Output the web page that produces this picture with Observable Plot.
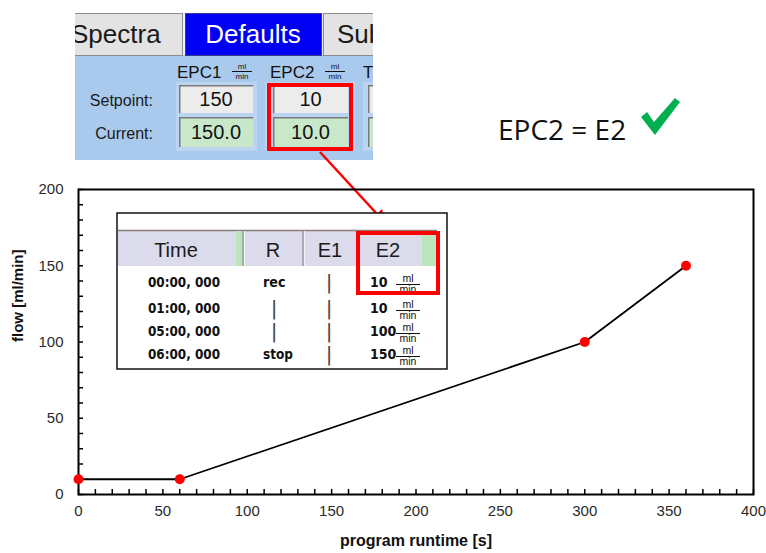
<!DOCTYPE html>
<html><head><meta charset="utf-8">
<script src="https://cdn.jsdelivr.net/npm/d3@7"></script>
<script src="https://cdn.jsdelivr.net/npm/@observablehq/plot@0.6"></script>
<style>
body{margin:0;background:#fff;}
#wrap{position:relative;width:766px;height:553px;overflow:hidden;background:#fff;}
#wrap > svg{position:absolute;left:0;top:0;}
</style></head>
<body><div id="wrap"></div>
<script>
// ---- chart data ----
const runtime = [0, 60, 300, 360];          // program runtime [s]
const flow = [10, 10, 100, 150];            // flow [ml/min]
const xTicks = [0, 50, 100, 150, 200, 250, 300, 350, 400];
const yTicks = [0, 50, 100, 150, 200];
const xLabel = "program runtime [s]";
const yLabel = "flow [ml/min]";

// ---- inset screenshot texts ----
const tabs = ["Spectra", "Defaults", "Sub"];
const epcNames = ["EPC1", "EPC2", "T"];
const setpoints = ["150", "10"];
const currents = ["150.0", "10.0"];
const rowLabels = ["Setpoint:", "Current:"];
const tableHeaders = ["Time", "R", "E1", "E2"];
const tableTimes = ["00:00, 000", "01:00, 000", "05:00, 000", "06:00, 000"];
const tableR = ["rec", "|", "|", "stop"];
const tableE2 = ["10", "10", "100", "150"];
const unitTop = "ml", unitBottom = "min";
const note = "EPC2 = E2";

const points = runtime.map((t, i) => ({t, f: flow[i]}));
const xDomain = [0, 400], yDomain = [0, 200];
const xMinor = d3.ticks(xDomain[0], xDomain[1], 40);   // minor tick every 10 s
const yMinor = d3.ticks(yDomain[0], yDomain[1], 20);   // minor tick every 10 ml/min
const W = 766, H = 553, mL = 78, mR = 13, mT = 189, mB = 59, tickLen = 5;

const wrap = document.getElementById("wrap");

// ---- overlays (screenshots, arrow, note) drawn first, chart on top ----
const ov = d3.select(wrap).append("svg")
  .attr("width", W).attr("height", H)
  .style("font-family", "'Liberation Sans', Arial, sans-serif");

const defs = ov.append("defs");
defs.append("clipPath").attr("id", "uiclip-epc").append("rect")
  .attr("x", 75).attr("y", 13).attr("width", 298).attr("height", 147);

// top UI panel
const ui = ov.append("g").attr("clip-path", "url(#uiclip-epc)");
ui.append("rect").attr("x", 75).attr("y", 13).attr("width", 298).attr("height", 42).attr("fill", "#f2f2f2");
ui.append("rect").attr("x", 75).attr("y", 55).attr("width", 298).attr("height", 105).attr("fill", "#a9c9ed");
const tabBoxes = [[60, 182], [185, 321], [323, 420]];
tabBoxes.forEach(([a, b], i) => {
  ui.append("rect").attr("x", a + 0.5).attr("y", 13.5).attr("width", b - a).attr("height", 42)
    .attr("fill", i === 1 ? "#0000f5" : "#e3e3e3").attr("stroke", i === 1 ? "#3a3a8a" : "#8c8c8c");
});
ui.append("text").attr("x", 71).attr("y", 43).attr("font-size", 26).attr("fill", "#1a1a1a").text(tabs[0]);
ui.append("text").attr("x", 253).attr("y", 43).attr("font-size", 26).attr("fill", "#fff").attr("text-anchor", "middle").text(tabs[1]);
ui.append("text").attr("x", 337).attr("y", 43).attr("font-size", 26).attr("fill", "#1a1a1a").text(tabs[2]);

// group backgrounds
[[176, 257], [265, 355], [363, 460]].forEach(([a, b]) => {
  ui.append("rect").attr("x", a).attr("y", 82).attr("width", b - a).attr("height", 69).attr("fill", "#bad4f1");
});
const colX = [177, 270, 363];
epcNames.forEach((n, i) => {
  ui.append("text").attr("x", colX[i]).attr("y", 78).attr("font-size", 17).attr("fill", "#111").text(n);
  if (i < 2) {
    const cx = colX[i] + 65;
    ui.append("text").attr("x", cx).attr("y", 69).attr("font-size", 8).attr("text-anchor", "middle").attr("fill", "#111").text(unitTop);
    ui.append("line").attr("x1", cx - 10).attr("x2", cx + 10).attr("y1", 71.5).attr("y2", 71.5).attr("stroke", "#111").attr("stroke-width", 1);
    ui.append("text").attr("x", cx).attr("y", 79).attr("font-size", 8).attr("text-anchor", "middle").attr("fill", "#111").text(unitBottom);
  }
});
ui.append("text").attr("x", 153).attr("y", 106).attr("font-size", 16).attr("text-anchor", "end").attr("fill", "#1a1a1a").text(rowLabels[0]);
ui.append("text").attr("x", 153).attr("y", 139).attr("font-size", 16).attr("text-anchor", "end").attr("fill", "#1a1a1a").text(rowLabels[1]);
const boxX = [[179, 253], [273, 348], [368, 440]];
boxX.forEach(([a, b], i) => {
  [[85, 113, "#ececec"], [117, 147, "#c9e7c9"]].forEach(([t, bt, col], j) => {
    ui.append("rect").attr("x", a).attr("y", t).attr("width", b - a).attr("height", bt - t).attr("fill", col);
    ui.append("path").attr("d", `M${a + 0.75},${bt}V${t + 0.75}H${b}`).attr("fill", "none").attr("stroke", "#7a7a7a").attr("stroke-width", 1.5);
    const vals = j === 0 ? setpoints : currents;
    if (i < 2) ui.append("text").attr("x", (a + b) / 2).attr("y", j === 0 ? 106 : 139).attr("font-size", 20)
      .attr("text-anchor", "middle").attr("fill", "#111").text(vals[i]);
  });
});
ui.append("rect").attr("x", 269).attr("y", 85).attr("width", 82).attr("height", 64)
  .attr("fill", "none").attr("stroke", "#ff0000").attr("stroke-width", 4);

// arrow
ov.append("line").attr("x1", 320).attr("y1", 152).attr("x2", 377).attr("y2", 214)
  .attr("stroke", "#ff0000").attr("stroke-width", 2.5);
ov.append("polygon").attr("points", "386,224 371.5,219 382,209").attr("fill", "#ff0000");

// table inset
const tb = ov.append("g");
tb.append("rect").attr("x", 117).attr("y", 213).attr("width", 330).attr("height", 156)
  .attr("fill", "#fff").attr("stroke", "#111").attr("stroke-width", 1.5);
tb.append("rect").attr("x", 118).attr("y", 230).attr("width", 319).attr("height", 36).attr("fill", "#dcdbeb");
tb.append("line").attr("x1", 118).attr("x2", 437).attr("y1", 230.5).attr("y2", 230.5).attr("stroke", "#8b7d78").attr("stroke-width", 1.5);
tb.append("rect").attr("x", 236).attr("y", 231).attr("width", 7).attr("height", 35).attr("fill", "#bde5bd");
tb.append("rect").attr("x", 422).attr("y", 231).attr("width", 15).attr("height", 35).attr("fill", "#bde5bd");
[243, 303, 358].forEach(x => {
  tb.append("line").attr("x1", x).attr("x2", x).attr("y1", 231).attr("y2", 266).attr("stroke", "#9a9a9a").attr("stroke-width", 1.5);
  tb.append("line").attr("x1", x + 1.5).attr("x2", x + 1.5).attr("y1", 231).attr("y2", 266).attr("stroke", "#f4f4f8").attr("stroke-width", 1);
});
const headX = [176, 273, 330, 388];
tableHeaders.forEach((h, i) => {
  tb.append("text").attr("x", headX[i]).attr("y", 257).attr("font-size", 20).attr("text-anchor", "middle").attr("fill", "#1a1a1a").text(h);
});
const rowBase = [287, 313, 336, 359];
tableTimes.forEach((t, i) => {
  const y = rowBase[i];
  tb.append("text").attr("x", 148).attr("y", y).attr("font-family", "'DejaVu Sans', sans-serif").attr("font-weight", "bold")
    .attr("font-size", 14).attr("textLength", 72).attr("lengthAdjust", "spacingAndGlyphs").attr("fill", "#111").text(t);
  const r = tableR[i];
  if (r === "|") {
    tb.append("text").attr("x", 274).attr("y", y + 2).attr("font-family", "'DejaVu Sans', sans-serif").attr("font-size", 20).attr("text-anchor", "middle").attr("fill", "#444").text(r);
  } else {
    tb.append("text").attr("x", 263).attr("y", y).attr("font-family", "'DejaVu Sans', sans-serif").attr("font-weight", "bold")
      .attr("font-size", 14).attr("textLength", r.length * 7.5).attr("lengthAdjust", "spacingAndGlyphs").attr("fill", "#111").text(r);
  }
  tb.append("text").attr("x", 329).attr("y", y + 2).attr("font-family", "'DejaVu Sans', sans-serif").attr("font-size", 20).attr("text-anchor", "middle").attr("fill", "#444").text("|");
  const v = tableE2[i];
  tb.append("text").attr("x", 370).attr("y", y).attr("font-family", "'DejaVu Sans', sans-serif").attr("font-weight", "bold")
    .attr("font-size", 14).attr("textLength", v.length * 8.8).attr("lengthAdjust", "spacingAndGlyphs").attr("fill", "#111").text(v);
  tb.append("text").attr("x", 408).attr("y", y - 5).attr("font-size", 10.5).attr("text-anchor", "middle").attr("fill", "#111").text(unitTop);
  tb.append("line").attr("x1", 396).attr("x2", 420).attr("y1", y - 2.5).attr("y2", y - 2.5).attr("stroke", "#111").attr("stroke-width", 1);
  tb.append("text").attr("x", 408).attr("y", y + 6).attr("font-size", 10.5).attr("text-anchor", "middle").attr("fill", "#111").text(unitBottom);
});
tb.append("rect").attr("x", 358).attr("y", 233).attr("width", 80).attr("height", 60)
  .attr("fill", "none").attr("stroke", "#ff0000").attr("stroke-width", 4);

// note with check mark
ov.append("text").attr("x", 498).attr("y", 140).attr("font-family", "'Open Sans', sans-serif").attr("font-size", 28).attr("fill", "#111").text(note);
ov.append("polygon").attr("points", "641,117 647,112 654,122 675,98 680,102 655,135").attr("fill", "#00b050");

// ---- the chart, on top (transparent background) ----
const chart = Plot.plot({
  width: W, height: H,
  marginLeft: mL, marginRight: mR, marginTop: mT, marginBottom: mB,
  x: {domain: xDomain},
  y: {domain: yDomain},
  style: {fontFamily: "'Liberation Sans', Arial, sans-serif", fontSize: "15px", color: "#222", background: "transparent", overflow: "visible"},
  marks: [
    Plot.axisX(xTicks, {tickSize: 0, tickPadding: 11, label: null, fill: "#2a2a2a"}),
    Plot.axisY(yTicks, {tickSize: 0, tickPadding: 15, label: null, fill: "#2a2a2a"}),
    // inward minor ticks
    Plot.ruleX(xMinor, {x: d => d, insetTop: H - mT - mB - tickLen, stroke: "black", strokeWidth: 1.5}),
    Plot.ruleY(yMinor, {y: d => d, insetRight: W - mL - mR - tickLen, stroke: "black", strokeWidth: 1.5}),
    Plot.frame({stroke: "black", strokeWidth: 2}),
    Plot.line(points, {x: "t", y: "f", stroke: "black", strokeWidth: 1.8}),
    Plot.dot(points, {x: "t", y: "f", r: 5, fill: "#ff0000", stroke: "none"}),
    Plot.text([xLabel], {frameAnchor: "bottom", dy: 51, fontWeight: "bold", fontSize: 16, fill: "#111"}),
    Plot.text([yLabel], {frameAnchor: "left", dx: -60, rotate: -90, fontWeight: "bold", fontSize: 15, fill: "#111"})
  ]
});
wrap.append(chart);
</script>
</body></html>
